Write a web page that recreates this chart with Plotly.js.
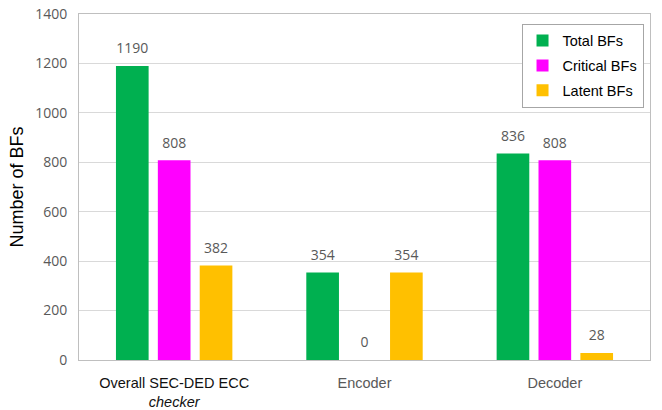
<!DOCTYPE html>
<html><head><meta charset="utf-8">
<script src="https://cdn.plot.ly/plotly-3.0.1.min.js"></script>
<style>html,body{margin:0;padding:0;background:#fff}</style>
</head><body>
<div id="chart" style="width:662px;height:410px"></div>
<script>
const categories = ['Overall', 'Encoder', 'Decoder'];
const tickLabels = ['<span style="color:#111">Overall SEC-DED ECC</span><br><span style="color:#111"><i>checker</i></span>', 'Encoder', 'Decoder'];
const totalBFs = [1190, 354, 836];
const criticalBFs = [808, 0, 808];
const latentBFs = [382, 354, 28];

const seriesNames = ['Total BFs', 'Critical BFs', 'Latent BFs'];
const seriesColors = ['#00B050', '#FF00FF', '#FFC000'];
const seriesData = [totalBFs, criticalBFs, latentBFs];

const traces = seriesData.map((vals, i) => ({
  type: 'bar',
  name: seriesNames[i],
  legendgroup: 'g' + i,
  x: categories,
  y: vals,
  marker: {color: seriesColors[i]},
  text: vals.map(v => '<span style="font-size:14px">' + String(v) + '</span><br> '),
  textposition: 'outside',
  cliponaxis: false,
  textfont: {family: 'Open Sans, sans-serif', size: 6, color: '#595959'}
}));

const layout = {
  width: 662, height: 410,
  margin: {l: 79, r: 12, t: 14, b: 50},
  paper_bgcolor: '#fff', plot_bgcolor: '#fff',
  barmode: 'group',
  bargap: 0.34,
  bargroupgap: 0.22,
  showlegend: true,
  legend: {
    x: 0.775, y: 0.972, xanchor: 'left', yanchor: 'top',
    bordercolor: '#a6a6a6', borderwidth: 1, bgcolor: '#fff',
    font: {family: 'Liberation Sans, Arial, sans-serif', size: 14.5, color: '#000'},
    tracegroupgap: 3, itemwidth: 30, traceorder: 'grouped'
  },
  xaxis: {
    tickmode: 'array', tickvals: categories, ticktext: tickLabels,
    showline: true, linecolor: '#bfbfbf', mirror: true, ticks: '',
    ticklabelstandoff: 10,
    tickfont: {family: 'Liberation Sans, Arial, sans-serif', size: 14.5, color: '#595959'},
    fixedrange: true
  },
  yaxis: {
    range: [0, 1400], dtick: 200,
    showline: true, linecolor: '#bfbfbf', mirror: true,
    gridcolor: '#d9d9d9', zeroline: false,
    ticklabelstandoff: 8,
    tickfont: {family: 'Open Sans, sans-serif', size: 14, color: '#595959'},
    title: {text: 'Number of BFs', font: {family: 'Liberation Sans, Arial, sans-serif', size: 18, color: '#000'}, standoff: 6}
  }
};

Plotly.newPlot('chart', traces, layout, {displayModeBar: false, staticPlot: true});
</script>
</body></html>
